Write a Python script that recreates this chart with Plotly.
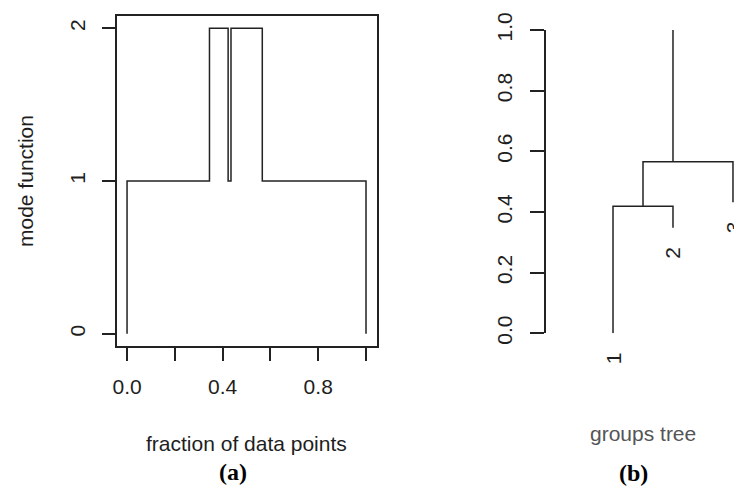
import plotly.graph_objects as go

# ---- panel (a): mode function (step function) ----
step_breaks = [0.0, 0.345, 0.423, 0.435, 0.566, 1.0]
step_levels = [1, 2, 1, 2, 1]
a_xtick_vals = [0.0, 0.2, 0.4, 0.6, 0.8, 1.0]
a_xtick_text = ["0.0", "", "0.4", "", "0.8", ""]
a_ytick_vals = [0, 1, 2]
a_ytick_text = ["0", "1", "2"]

# ---- panel (b): groups tree (dendrogram) ----
leaf_x = [1, 2, 3]
leaf_labels = ["1", "2", "3"]
leaf_bottom = [0.0, 0.348, 0.432]
merge1_x, merge1_h = 1.5, 0.419
merge2_h = 0.566
root_x, root_top = 2.0, 1.0
b_ytick_vals = [0.0, 0.2, 0.4, 0.6, 0.8, 1.0]
b_ytick_text = ["0.0", "0.2", "0.4", "0.6", "0.8", "1.0"]

LINE = "#222222"
TXT = "#1e1e1e"
FONT = "Liberation Sans, Arial, sans-serif"
SERIF = "Liberation Serif, Times New Roman, serif"
W, H = 734, 487

# build the step polyline
sx, sy = [step_breaks[0]], [0]
for i, lv in enumerate(step_levels):
    sx += [step_breaks[i], step_breaks[i + 1]]
    sy += [lv, lv]
sx.append(step_breaks[-1])
sy.append(0)

fig = go.Figure()
fig.add_trace(go.Scatter(x=sx, y=sy, mode="lines",
                         line=dict(color=LINE, width=1.5),
                         xaxis="x", yaxis="y", showlegend=False, hoverinfo="skip"))

# dendrogram segments
dx = [leaf_x[0], leaf_x[0], leaf_x[1], leaf_x[1], None,
      merge1_x, merge1_x, leaf_x[2], leaf_x[2], None,
      root_x, root_x]
dy = [leaf_bottom[0], merge1_h, merge1_h, leaf_bottom[1], None,
      merge1_h, merge2_h, merge2_h, leaf_bottom[2], None,
      merge2_h, root_top]
fig.add_trace(go.Scatter(x=dx, y=dy, mode="lines",
                         line=dict(color=LINE, width=1.5),
                         xaxis="x2", yaxis="y2", showlegend=False, hoverinfo="skip"))

def px_x(p):
    return p / W

def px_y(p):
    return 1 - p / H

def note(x, y, text, size=21, color=TXT, family=FONT, angle=0, xref="paper", yref="paper", yshift=0):
    return dict(x=x, y=y, xref=xref, yref=yref, text=text, showarrow=False,
                xanchor="center", yanchor="middle", textangle=angle, yshift=yshift,
                font=dict(family=family, size=size, color=color))

ann = []
for xv, lab, yb in zip(leaf_x, leaf_labels, leaf_bottom):
    ann.append(note(xv, yb, lab, angle=-90, xref="x2", yref="y2", yshift=-25))

ann += [
    note(px_x(247), px_y(443), "fraction of data points"),
    note(px_x(25), px_y(181), "mode function", angle=-90),
    note(px_x(643), px_y(433), "groups tree", color="#555555"),
    note(px_x(233), px_y(472), "<b>(a)</b>", size=24, color="#000000", family=SERIF),
    note(px_x(633), px_y(473), "<b>(b)</b>", size=24, color="#000000", family=SERIF),
]

tickfont = dict(family=FONT, size=21, color=TXT)

fig.update_layout(
    template="none",
    width=W, height=H,
    margin=dict(l=0, r=0, t=0, b=0, pad=0),
    paper_bgcolor="white", plot_bgcolor="white",
    showlegend=False,
    xaxis=dict(domain=[px_x(117), px_x(377)], range=[-0.042, 1.046], automargin=False,
               anchor="y", showline=True, mirror=True, linecolor=LINE, linewidth=1.5,
               showgrid=False, zeroline=False,
               ticks="outside", ticklen=13, tickwidth=1.5, tickcolor=LINE,
               tickvals=a_xtick_vals, ticktext=a_xtick_text, tickfont=tickfont,
               ticklabelstandoff=8),
    yaxis=dict(domain=[px_y(346), px_y(16)], range=[-0.08, 2.08], automargin=False,
               anchor="x", showline=True, mirror=True, linecolor=LINE, linewidth=1.5,
               showgrid=False, zeroline=False,
               ticks="outside", ticklen=13, tickwidth=1.5, tickcolor=LINE,
               tickvals=a_ytick_vals, ticktext=a_ytick_text, tickfont=tickfont,
               tickangle=-90, ticklabelstandoff=9),
    xaxis2=dict(domain=[px_x(546), 1.0], range=[-0.117, 3.017], anchor="y2", automargin=False,
                visible=False, showgrid=False, zeroline=False),
    yaxis2=dict(domain=[px_y(333.3), px_y(30)], range=[0, 1], anchor="x2", automargin=False,
                showline=True, linecolor=LINE, linewidth=1.5,
                showgrid=False, zeroline=False,
                ticks="outside", ticklen=14, tickwidth=1.5, tickcolor=LINE,
                tickvals=b_ytick_vals, ticktext=b_ytick_text, tickfont=tickfont,
                tickangle=-90, ticklabelstandoff=10),
    annotations=ann,
)

fig.write_html("out.html",
               config={"displayModeBar": False},
               post_script="document.body.style.margin='0';document.body.style.overflow='hidden';")
